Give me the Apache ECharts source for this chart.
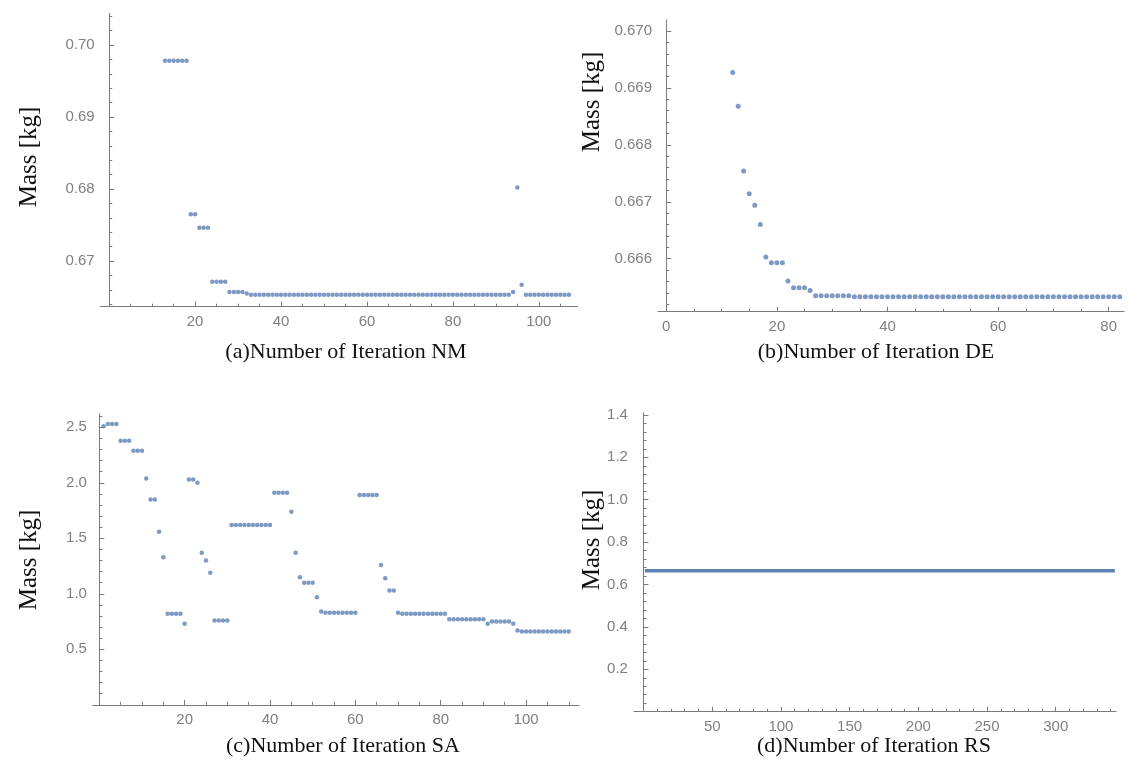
<!DOCTYPE html>
<html><head><meta charset="utf-8">
<script src="https://cdn.jsdelivr.net/npm/echarts@6/dist/echarts.min.js"></script>
<style>html,body{margin:0;padding:0;background:#fff}#c{width:1129px;height:778px}</style>
</head><body><div id="c"></div>
<script>
// ---------- DATA ----------
const nmFirstIter = 13;
const nmMass = [
  0.6978, 0.6978, 0.6978, 0.6978, 0.6978, 0.6978,
  0.6765, 0.6765,
  0.6746, 0.6746, 0.6746,
  0.6671, 0.6671, 0.6671, 0.6671,
  0.6657, 0.6657, 0.6657, 0.6657,
  0.6655,
  0.6653, 0.6653, 0.6653, 0.6653, 0.6653, 0.6653, 0.6653, 0.6653, 0.6653, 0.6653,
  0.6653, 0.6653, 0.6653, 0.6653, 0.6653, 0.6653, 0.6653, 0.6653, 0.6653, 0.6653,
  0.6653, 0.6653, 0.6653, 0.6653, 0.6653, 0.6653, 0.6653, 0.6653, 0.6653, 0.6653,
  0.6653, 0.6653, 0.6653, 0.6653, 0.6653, 0.6653, 0.6653, 0.6653, 0.6653, 0.6653,
  0.6653, 0.6653, 0.6653, 0.6653, 0.6653, 0.6653, 0.6653, 0.6653, 0.6653, 0.6653,
  0.6653, 0.6653, 0.6653, 0.6653, 0.6653, 0.6653, 0.6653, 0.6653, 0.6653, 0.6653,
  0.6653,
  0.6657, 0.6802, 0.6667,
  0.6653, 0.6653, 0.6653, 0.6653, 0.6653, 0.6653, 0.6653, 0.6653, 0.6653, 0.6653, 0.6653
];

const deFirstIter = 12;
const deMass = [
  0.66927, 0.66868, 0.66754, 0.66714, 0.66694, 0.66660, 0.66603,
  0.66593, 0.66593, 0.66593,
  0.66561,
  0.66549, 0.66549, 0.66549,
  0.66544,
  0.66535, 0.66535, 0.66535, 0.66535, 0.66535, 0.66535, 0.66535,
  0.66533, 0.66533, 0.66533, 0.66533, 0.66533, 0.66533, 0.66533, 0.66533, 0.66533, 0.66533,
  0.66533, 0.66533, 0.66533, 0.66533, 0.66533, 0.66533, 0.66533, 0.66533, 0.66533, 0.66533,
  0.66533, 0.66533, 0.66533, 0.66533, 0.66533, 0.66533, 0.66533, 0.66533, 0.66533, 0.66533,
  0.66533, 0.66533, 0.66533, 0.66533, 0.66533, 0.66533, 0.66533, 0.66533, 0.66533, 0.66533,
  0.66533, 0.66533, 0.66533, 0.66533, 0.66533, 0.66533, 0.66533, 0.66533, 0.66533
];

const saFirstIter = 1;
const saMass = [
  2.51, 2.53, 2.53, 2.53,
  2.38, 2.38, 2.38,
  2.29, 2.29, 2.29,
  2.04,
  1.85, 1.85,
  1.56, 1.33,
  0.82, 0.82, 0.82, 0.82,
  0.73,
  2.03, 2.03, 2.00,
  1.37, 1.30, 1.19,
  0.76, 0.76, 0.76, 0.76,
  1.62, 1.62, 1.62, 1.62, 1.62, 1.62, 1.62, 1.62, 1.62, 1.62,
  1.91, 1.91, 1.91, 1.91,
  1.74, 1.37, 1.15,
  1.10, 1.10, 1.10,
  0.97, 0.84,
  0.83, 0.83, 0.83, 0.83, 0.83, 0.83, 0.83, 0.83,
  1.89, 1.89, 1.89, 1.89, 1.89,
  1.26, 1.14,
  1.03, 1.03,
  0.83,
  0.82, 0.82, 0.82, 0.82, 0.82, 0.82, 0.82, 0.82, 0.82, 0.82, 0.82,
  0.77, 0.77, 0.77, 0.77, 0.77, 0.77, 0.77, 0.77, 0.77,
  0.73,
  0.75, 0.75, 0.75, 0.75, 0.75,
  0.73, 0.67,
  0.66, 0.66, 0.66, 0.66, 0.66, 0.66, 0.66, 0.66, 0.66, 0.66, 0.66, 0.66
];

const rsIter = [1, 343];
const rsMass = [0.6653, 0.6653];

// tick labels
const nmXTicks = [20, 40, 60, 80, 100];
const nmYTicks = [0.67, 0.68, 0.69, 0.70];
const deXTicks = [0, 20, 40, 60, 80];
const deYTicks = [0.666, 0.667, 0.668, 0.669, 0.670];
const saXTicks = [20, 40, 60, 80, 100];
const saYTicks = [0.5, 1.0, 1.5, 2.0, 2.5];
const rsXTicks = [50, 100, 150, 200, 250, 300];
const rsYTicks = [0.2, 0.4, 0.6, 0.8, 1.0, 1.2, 1.4];

const captions = ['(a)Number of Iteration NM', '(b)Number of Iteration DE',
                  '(c)Number of Iteration SA', '(d)Number of Iteration RS'];
const yTitle = 'Mass [kg]';

// ---------- LAYOUT / STYLE ----------
const DOT = '#5E81B5';
const AX = '#7a7a7a';
const LBL = '#808080';

function steps(a, b, s) {
  const out = [];
  const n = Math.round((b - a) / s);
  for (let i = 0; i <= n; i++) out.push(+(a + i * s).toFixed(6));
  return out;
}

const panels = [
  { grid: {left: 100.6, top: 13.3, width: 476.9, height: 293.4},
    x: {min: -2, max: 109, major: nmXTicks, minor: steps(5, 105, 5), dec: 0},
    y: {min: 0.66365, max: 0.7044, major: nmYTicks, minor: steps(0.664, 0.704, 0.002), dec: 2},
    cap: [346, 352], ylab: [29, 157] },
  { grid: {left: 658, top: 20, width: 466.2, height: 291.7},
    x: {min: -1.5, max: 82.8, major: deXTicks, minor: steps(5, 80, 5), dec: 0},
    y: {min: 0.665069, max: 0.670193, major: deYTicks, minor: steps(0.6652, 0.6700, 0.0002), dec: 3},
    cap: [876, 352], ylab: [592, 102] },
  { grid: {left: 92.9, top: 414, width: 486.1, height: 290.8},
    x: {min: -1.5, max: 112.4, major: saXTicks, minor: steps(5, 110, 5), dec: 0},
    y: {min: 0, max: 2.62, major: saYTicks, minor: steps(0.1, 2.6, 0.1), dec: 1},
    cap: [343, 746], ylab: [29, 560] },
  { grid: {left: 633.9, top: 412.8, width: 482.3, height: 298.9},
    x: {min: -7, max: 344, major: rsXTicks, minor: steps(10, 340, 10), dec: 0},
    y: {min: 0, max: 1.41, major: rsYTicks, minor: steps(0.04, 1.40, 0.04), dec: 1},
    cap: [874, 746], ylab: [592, 540] }
];

const grids = [], xAxes = [], yAxes = [], graphics = [];
panels.forEach((p, gi) => {
  grids.push(Object.assign({containLabel: false}, p.grid));
  ['x', 'y'].forEach(dim => {
    const a = p[dim];
    const pos = dim === 'x' ? 'bottom' : 'left';
    const main = {
      type: 'value', gridIndex: gi, min: a.min, max: a.max, position: pos,
      axisLine: {show: true, onZero: true, lineStyle: {color: AX, width: 1}},
      axisTick: {show: true, inside: true, length: 5, customValues: a.major, lineStyle: {color: AX, width: 1}},
      axisLabel: {show: true, customValues: a.major, formatter: v => (+v).toFixed(a.dec),
                  color: LBL, fontSize: 15, fontFamily: 'Liberation Sans, Arial, sans-serif',
                  margin: dim === 'x' ? 8 : 6, hideOverlap: false, showMinLabel: true, showMaxLabel: true},
      splitLine: {show: false}
    };
    const minor = {
      type: 'value', gridIndex: gi, min: a.min, max: a.max, position: pos,
      axisLine: {show: false, onZero: true},
      axisTick: {show: true, inside: true, length: 3, customValues: a.minor, lineStyle: {color: AX, width: 1}},
      axisLabel: {show: false},
      splitLine: {show: false}
    };
    (dim === 'x' ? xAxes : yAxes).push(main, minor);
  });
  graphics.push({type: 'text', x: p.cap[0], y: p.cap[1], z: 10,
    style: {text: captions[gi], font: '22px "Liberation Serif", "Times New Roman", serif',
            fill: '#111', textAlign: 'center', textVerticalAlign: 'middle'}});
  graphics.push({type: 'text', x: p.ylab[0], y: p.ylab[1], rotation: Math.PI / 2, z: 10,
    style: {text: yTitle, font: '25px "Liberation Serif", "Times New Roman", serif',
            fill: '#111', textAlign: 'center', textVerticalAlign: 'middle'}});
});

function pts(first, arr) { return arr.map((m, i) => [first + i, m]); }

const series = [
  {type: 'scatter', xAxisIndex: 0, yAxisIndex: 0, data: pts(nmFirstIter, nmMass), symbolSize: 4.5,
   itemStyle: {color: DOT}},
  {type: 'scatter', xAxisIndex: 2, yAxisIndex: 2, data: pts(deFirstIter, deMass), symbolSize: 5,
   itemStyle: {color: DOT}},
  {type: 'scatter', xAxisIndex: 4, yAxisIndex: 4, data: pts(saFirstIter, saMass), symbolSize: 4.5,
   itemStyle: {color: DOT}},
  {type: 'line', xAxisIndex: 6, yAxisIndex: 6, data: rsIter.map((x, i) => [x, rsMass[i]]),
   showSymbol: false, lineStyle: {color: DOT, width: 3.5}}
];

const chart = echarts.init(document.getElementById('c'), null, {renderer: 'canvas'});
chart.setOption({
  animation: false,
  backgroundColor: '#fff',
  grid: grids, xAxis: xAxes, yAxis: yAxes, series: series, graphic: graphics
});
</script></body></html>
